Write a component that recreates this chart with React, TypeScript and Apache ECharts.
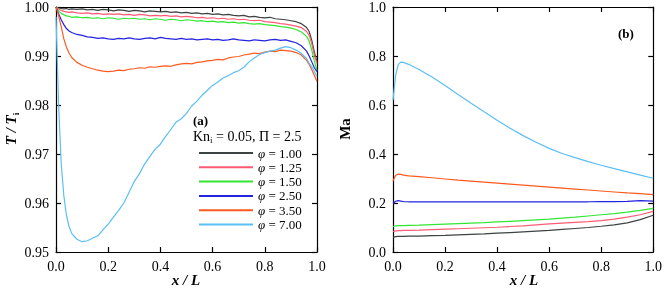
import React, { useEffect, useRef } from 'react';
import * as echarts from 'echarts';

// ---- (a) temperature ratio T/Ti ----
const xT = [0, 0.01, 0.02, 0.03, 0.04, 0.05, 0.06, 0.08, 0.10, 0.12, 0.14, 0.16, 0.18, 0.20, 0.22, 0.24, 0.26, 0.28, 0.30, 0.32, 0.34, 0.36, 0.38, 0.40, 0.42, 0.44, 0.46, 0.48, 0.50, 0.52, 0.54, 0.56, 0.58, 0.60, 0.62, 0.64, 0.66, 0.68, 0.70, 0.72, 0.74, 0.76, 0.78, 0.80, 0.82, 0.84, 0.86, 0.88, 0.90, 0.92, 0.94, 0.96, 0.97, 0.98, 0.99, 1.00];

const tPhi100 = [1.0000, 0.9998, 0.9997, 0.9996, 0.9997, 0.9995, 0.9996, 0.9995, 0.9996, 0.9994, 0.9995, 0.9993, 0.9995, 0.9994, 0.9992, 0.9994, 0.9993, 0.9991, 0.9993, 0.9992, 0.9990, 0.9992, 0.9991, 0.9990, 0.9991, 0.9989, 0.9990, 0.9988, 0.9989, 0.9987, 0.9988, 0.9986, 0.9987, 0.9985, 0.9986, 0.9984, 0.9985, 0.9983, 0.9982, 0.9983, 0.9980, 0.9981, 0.9979, 0.9978, 0.9979, 0.9976, 0.9975, 0.9974, 0.9972, 0.9970, 0.9966, 0.9958, 0.9950, 0.9932, 0.9908, 0.9888];
const tPhi125 = [1.0000, 0.9996, 0.9993, 0.9991, 0.9990, 0.9989, 0.9990, 0.9988, 0.9987, 0.9988, 0.9986, 0.9987, 0.9985, 0.9986, 0.9985, 0.9986, 0.9984, 0.9985, 0.9983, 0.9985, 0.9984, 0.9982, 0.9983, 0.9982, 0.9983, 0.9981, 0.9982, 0.9980, 0.9981, 0.9980, 0.9978, 0.9979, 0.9977, 0.9978, 0.9976, 0.9977, 0.9975, 0.9976, 0.9974, 0.9975, 0.9973, 0.9972, 0.9973, 0.9970, 0.9969, 0.9968, 0.9966, 0.9965, 0.9963, 0.9961, 0.9958, 0.9950, 0.9942, 0.9925, 0.9902, 0.9885];
const tPhi150 = [1.0000, 0.9992, 0.9987, 0.9984, 0.9982, 0.9981, 0.9979, 0.9980, 0.9978, 0.9979, 0.9977, 0.9978, 0.9976, 0.9978, 0.9977, 0.9975, 0.9977, 0.9976, 0.9977, 0.9975, 0.9976, 0.9974, 0.9976, 0.9975, 0.9973, 0.9975, 0.9974, 0.9972, 0.9974, 0.9973, 0.9971, 0.9972, 0.9970, 0.9971, 0.9969, 0.9970, 0.9968, 0.9969, 0.9967, 0.9968, 0.9966, 0.9965, 0.9966, 0.9964, 0.9963, 0.9962, 0.9960, 0.9959, 0.9957, 0.9954, 0.9949, 0.9940, 0.9930, 0.9912, 0.9890, 0.9870];
const tPhi250 = [1.0000, 0.9986, 0.9974, 0.9964, 0.9956, 0.9951, 0.9948, 0.9944, 0.9942, 0.9939, 0.9938, 0.9936, 0.9937, 0.9935, 0.9934, 0.9936, 0.9935, 0.9937, 0.9935, 0.9934, 0.9936, 0.9937, 0.9935, 0.9938, 0.9936, 0.9935, 0.9934, 0.9936, 0.9934, 0.9935, 0.9933, 0.9934, 0.9935, 0.9933, 0.9934, 0.9932, 0.9933, 0.9935, 0.9933, 0.9932, 0.9931, 0.9933, 0.9932, 0.9931, 0.9933, 0.9934, 0.9932, 0.9933, 0.9930, 0.9927, 0.9921, 0.9910, 0.9900, 0.9888, 0.9876, 0.9868];
const tPhi350 = [1.0000, 0.9982, 0.9960, 0.9935, 0.9918, 0.9906, 0.9897, 0.9887, 0.9881, 0.9877, 0.9874, 0.9871, 0.9869, 0.9868, 0.9869, 0.9871, 0.9870, 0.9873, 0.9874, 0.9876, 0.9875, 0.9878, 0.9877, 0.9879, 0.9880, 0.9879, 0.9882, 0.9884, 0.9885, 0.9884, 0.9887, 0.9888, 0.9890, 0.9891, 0.9893, 0.9892, 0.9896, 0.9898, 0.9899, 0.9902, 0.9904, 0.9906, 0.9905, 0.9908, 0.9910, 0.9909, 0.9912, 0.9911, 0.9910, 0.9907, 0.9902, 0.9891, 0.9883, 0.9872, 0.9860, 0.9848];
const tPhi700 = [0.9980, 0.9800, 0.9680, 0.9615, 0.9575, 0.9552, 0.9538, 0.9526, 0.9521, 0.9523, 0.9528, 0.9533, 0.9545, 0.9557, 0.9571, 0.9585, 0.9600, 0.9622, 0.9644, 0.9660, 0.9680, 0.9695, 0.9710, 0.9720, 0.9736, 0.9750, 0.9765, 0.9772, 0.9783, 0.9798, 0.9808, 0.9820, 0.9830, 0.9840, 0.9847, 0.9855, 0.9860, 0.9866, 0.9870, 0.9877, 0.9888, 0.9896, 0.9903, 0.9907, 0.9910, 0.9912, 0.9916, 0.9919, 0.9917, 0.9912, 0.9905, 0.9895, 0.9885, 0.9878, 0.9868, 0.9858];

// ---- (b) Mach number ----
const xM = [0, 0.01, 0.02, 0.03, 0.04, 0.06, 0.10, 0.15, 0.20, 0.25, 0.30, 0.35, 0.40, 0.45, 0.50, 0.55, 0.60, 0.65, 0.70, 0.75, 0.80, 0.85, 0.90, 0.95, 1.00];
const maPhi100 = [0.060, 0.063, 0.064, 0.064, 0.064, 0.065, 0.065, 0.067, 0.068, 0.070, 0.072, 0.074, 0.077, 0.079, 0.082, 0.085, 0.088, 0.092, 0.096, 0.100, 0.105, 0.111, 0.119, 0.132, 0.150];
const maPhi125 = [0.083, 0.086, 0.087, 0.087, 0.088, 0.088, 0.089, 0.091, 0.093, 0.095, 0.097, 0.099, 0.101, 0.104, 0.107, 0.111, 0.115, 0.118, 0.121, 0.124, 0.128, 0.134, 0.142, 0.152, 0.166];
const maPhi150 = [0.103, 0.107, 0.108, 0.108, 0.108, 0.109, 0.110, 0.112, 0.114, 0.116, 0.118, 0.120, 0.123, 0.125, 0.128, 0.131, 0.134, 0.138, 0.142, 0.147, 0.152, 0.157, 0.163, 0.170, 0.178];
const maPhi250 = [0.198, 0.207, 0.210, 0.208, 0.206, 0.205, 0.205, 0.205, 0.205, 0.205, 0.205, 0.205, 0.205, 0.205, 0.205, 0.205, 0.205, 0.205, 0.205, 0.205, 0.206, 0.206, 0.207, 0.210, 0.208];
const maPhi350 = [0.291, 0.312, 0.318, 0.317, 0.314, 0.311, 0.308, 0.303, 0.298, 0.293, 0.289, 0.285, 0.281, 0.277, 0.273, 0.269, 0.265, 0.261, 0.257, 0.253, 0.249, 0.245, 0.241, 0.238, 0.234];
const maPhi700 = [0.620, 0.720, 0.765, 0.775, 0.774, 0.766, 0.745, 0.714, 0.680, 0.643, 0.607, 0.572, 0.538, 0.505, 0.475, 0.448, 0.423, 0.402, 0.385, 0.369, 0.354, 0.340, 0.327, 0.314, 0.301];

const phiNames = ['φ = 1.00', 'φ = 1.25', 'φ = 1.50', 'φ = 2.50', 'φ = 3.50', 'φ = 7.00'];
const phiColors = ['#3d4242', '#ff5c73', '#33e633', '#2323e0', '#ff5a1e', '#5abff5'];
const tSeries = [tPhi100, tPhi125, tPhi150, tPhi250, tPhi350, tPhi700];
const maSeries = [maPhi100, maPhi125, maPhi150, maPhi250, maPhi350, maPhi700];

const FONT = 'Liberation Serif';

function axisCommon(showLabel: boolean, digits: number) {
  return {
    axisLine: { show: true, onZero: false, lineStyle: { color: '#000', width: 1.2 } },
    axisTick: { show: true, inside: true, length: 5, lineStyle: { color: '#000', width: 1.2 } },
    axisLabel: {
      show: showLabel,
      showMinLabel: true,
      showMaxLabel: true,
      fontFamily: FONT,
      fontSize: 14,
      color: '#000',
      margin: 7,
      formatter: (v: number) => v.toFixed(digits),
    },
    splitLine: { show: false },
  };
}

export default function App() {
  const ref = useRef<HTMLDivElement>(null);
  useEffect(() => {
    const chart = echarts.init(ref.current!, null, { renderer: 'svg' });
    const xAxes: any[] = [];
    const yAxes: any[] = [];
    [0, 1].forEach((g) => {
      xAxes.push({ type: 'value', gridIndex: g, min: 0, max: 1, interval: 0.2, position: 'bottom', ...axisCommon(true, 1) });
      xAxes.push({ type: 'value', gridIndex: g, min: 0, max: 1, interval: 0.2, position: 'top', ...axisCommon(false, 1) });
    });
    yAxes.push({ type: 'value', gridIndex: 0, min: 0.95, max: 1.0, interval: 0.01, position: 'left', ...axisCommon(true, 2) });
    yAxes.push({ type: 'value', gridIndex: 0, min: 0.95, max: 1.0, interval: 0.01, position: 'right', ...axisCommon(false, 2) });
    yAxes.push({ type: 'value', gridIndex: 1, min: 0, max: 1.0, interval: 0.2, position: 'left', ...axisCommon(true, 1) });
    yAxes.push({ type: 'value', gridIndex: 1, min: 0, max: 1.0, interval: 0.2, position: 'right', ...axisCommon(false, 1) });

    const series: any[] = [];
    tSeries.forEach((arr, i) => {
      series.push({
        type: 'line', name: phiNames[i], xAxisIndex: 0, yAxisIndex: 0, showSymbol: false,
        data: xT.map((x, k) => [x, arr[k]]),
        lineStyle: { color: phiColors[i], width: 1.2 }, itemStyle: { color: phiColors[i] },
      });
    });
    maSeries.forEach((arr, i) => {
      series.push({
        type: 'line', name: phiNames[i], xAxisIndex: 2, yAxisIndex: 2, showSymbol: false,
        data: xM.map((x, k) => [x, arr[k]]),
        lineStyle: { color: phiColors[i], width: 1.2 }, itemStyle: { color: phiColors[i] },
      });
    });

    const labelFont = { fontFamily: FONT, fontSize: 15, fontWeight: 'bold', fill: '#000' };

    chart.setOption({
      animation: false,
      grid: [
        { left: 56, top: 5, width: 261, height: 247 },
        { left: 393, top: 5, width: 262, height: 247 },
      ],
      xAxis: xAxes,
      yAxis: yAxes,
      legend: {
        data: phiNames,
        orient: 'vertical',
        left: 194,
        top: 141,
        icon: 'rect',
        itemWidth: 54,
        itemHeight: 2,
        itemGap: 0.3,
        selectedMode: false,
        formatter: (name: string) => name.replace('φ', '{i|φ}'),
        textStyle: {
          fontFamily: FONT, fontSize: 13, color: '#000', lineHeight: 14,
          rich: { i: { fontFamily: FONT, fontSize: 13, fontStyle: 'italic', color: '#000' } },
        },
      },
      series,
      graphic: [
        { type: 'text', x: 193, y: 120, style: { text: '(a)', fontFamily: FONT, fontSize: 13, fontWeight: 'bold', fill: '#000', verticalAlign: 'middle' } },
        { type: 'text', x: 618, y: 33, style: { text: '(b)', fontFamily: FONT, fontSize: 13, fontWeight: 'bold', fill: '#000', verticalAlign: 'middle' } },
        {
          type: 'text', x: 193, y: 136,
          style: {
            text: 'Kn{sub|i} = 0.05, Π = 2.5', fontFamily: FONT, fontSize: 14, fill: '#000', verticalAlign: 'middle',
            rich: { sub: { fontFamily: FONT, fontSize: 9, fill: '#000', padding: [8, 0, 0, 0] } },
          },
        },
        { type: 'text', x: 186, y: 280, style: { ...labelFont, fontStyle: 'italic', text: 'x / L', align: 'center', verticalAlign: 'middle' } },
        { type: 'text', x: 524, y: 280, style: { ...labelFont, fontStyle: 'italic', text: 'x / L', align: 'center', verticalAlign: 'middle' } },
        {
          type: 'text', x: 11, y: 129, rotation: Math.PI / 2,
          style: {
            ...labelFont, fontStyle: 'italic', text: 'T / T{sub|i}', align: 'center', verticalAlign: 'middle',
            rich: { sub: { fontFamily: FONT, fontSize: 9, fontWeight: 'bold', fill: '#000', padding: [9, 0, 0, 0] } },
          },
        },
        { type: 'text', x: 345, y: 129, rotation: Math.PI / 2, style: { ...labelFont, text: 'Ma', align: 'center', verticalAlign: 'middle' } },
      ],
    });
    return () => chart.dispose();
  }, []);
  return <div ref={ref} style={{ position: 'fixed', left: 0, top: 0, width: 665, height: 289 }} />;
}
